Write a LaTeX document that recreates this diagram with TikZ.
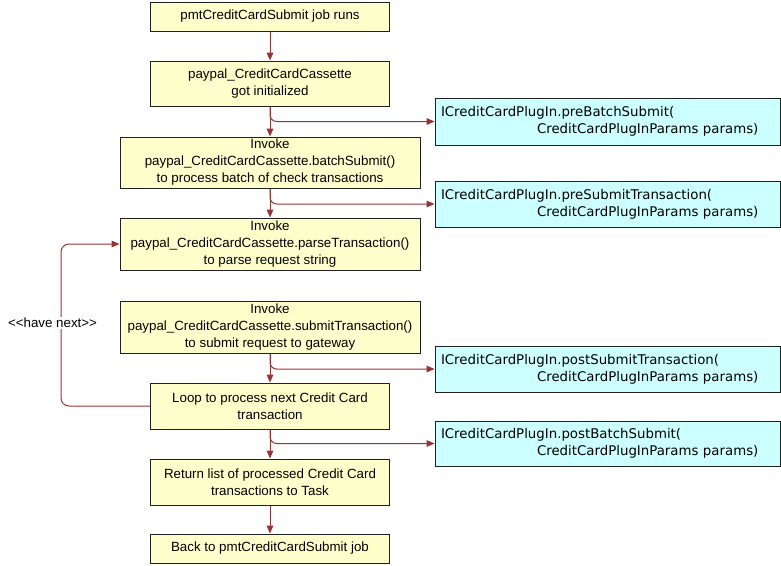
\documentclass[tikz,border=0pt]{standalone}
\usepackage{fontspec}
\setmainfont{Liberation Sans}
\newfontfamily\dvfont{DejaVu Sans}
\usetikzlibrary{arrows.meta}
\definecolor{boxyellow}{HTML}{FFFFCC}
\definecolor{boxcyan}{HTML}{CCFFFF}
\definecolor{arrred}{HTML}{993333}
\definecolor{edgegray}{HTML}{202020}
\tikzset{
  flowbox/.style={draw=edgegray, fill=boxyellow, line width=0.75pt, inner sep=0pt,
    align=center, font=\fontsize{10}{12.75}\selectfont},
  plugbox/.style={draw=edgegray, fill=boxcyan, line width=0.75pt, inner xsep=4.5pt, inner ysep=0pt,
    minimum width=258.75pt, minimum height=34.5pt, text width=249.75pt, align=left,
    font=\dvfont\fontsize{10}{12.75}\selectfont},
  arr/.style={draw=arrred, line width=0.75pt, -{Triangle[length=6pt,width=5pt]}},
  looplabel/.style={fill=white, inner sep=1pt, font=\fontsize{10}{12}\selectfont}
}
\begin{document}
\begin{tikzpicture}[x=0.75pt,y=-0.75pt]
\useasboundingbox (0,0) rectangle (781,565);
% main flow boxes
\node[flowbox, minimum width=179.25pt, minimum height=21.75pt] (b1) at (270,16.5) {pmtCreditCardSubmit job runs};
\node[flowbox, minimum width=179.25pt, minimum height=33.75pt] (b2) at (270,83.5) {paypal\_CreditCardCassette\\got initialized};
\node[flowbox, minimum width=225pt, minimum height=38.25pt] (b3) at (270,162.5) {Invoke\\paypal\_CreditCardCassette.batchSubmit()\\to process batch of check transactions};
\node[flowbox, minimum width=225pt, minimum height=39pt] (b4) at (270,244) {Invoke\\paypal\_CreditCardCassette.parseTransaction()\\to parse request string};
\node[flowbox, minimum width=225pt, minimum height=39pt] (b5) at (270,327) {Invoke\\paypal\_CreditCardCassette.submitTransaction()\\to submit request to gateway};
\node[flowbox, minimum width=179.25pt, minimum height=34.5pt] (b6) at (270,406) {Loop to process next Credit Card\\transaction};
\node[flowbox, minimum width=179.25pt, minimum height=34.5pt] (b7) at (270,482) {Return list of processed Credit Card\\transactions to Task};
\node[flowbox, minimum width=179.25pt, minimum height=21.75pt] (b8) at (270,548.5) {Back to pmtCreditCardSubmit job};
% plug-in boxes
\node[plugbox, minimum height=35.25pt] (c1) at (607.5,121.5) {ICreditCardPlugIn.preBatchSubmit(\\\hspace*{72pt}CreditCardPlugInParams params)};
\node[plugbox] (c2) at (607.5,204) {ICreditCardPlugIn.preSubmitTransaction(\\\hspace*{72pt}CreditCardPlugInParams params)};
\node[plugbox] (c3) at (607.5,369) {ICreditCardPlugIn.postSubmitTransaction(\\\hspace*{72pt}CreditCardPlugInParams params)};
\node[plugbox, minimum height=33.75pt] (c4) at (607.5,443.5) {ICreditCardPlugIn.postBatchSubmit(\\\hspace*{72pt}CreditCardPlugInParams params)};
% main arrows
\draw[arr] (b1) -- (b2);
\draw[arr] (b2) -- (b3);
\draw[arr] (b3) -- (b4);
\draw[arr] (b5) -- (b6);
\draw[arr] (b6) -- (b7);
\draw[arr] (b7) -- (b8);
% branches to plug-ins
\draw[arr, rounded corners=5pt] (b2.south) |- (c1.west);
\draw[arr, rounded corners=5pt] (b3.south) |- (c2.west);
\draw[arr, rounded corners=5pt] (b5.south) |- (c3.west);
\draw[arr, rounded corners=5pt] (b6.south) |- (c4.west);
% loop back
\coordinate (lp) at (61,406);
\draw[arr, rounded corners=6pt] (b6.west) -- (lp) |- (b4.west);
\node[looplabel] (hn) at (52.5,323) {<\kern0pt<have next>\kern0pt>};
\end{tikzpicture}
\end{document}
